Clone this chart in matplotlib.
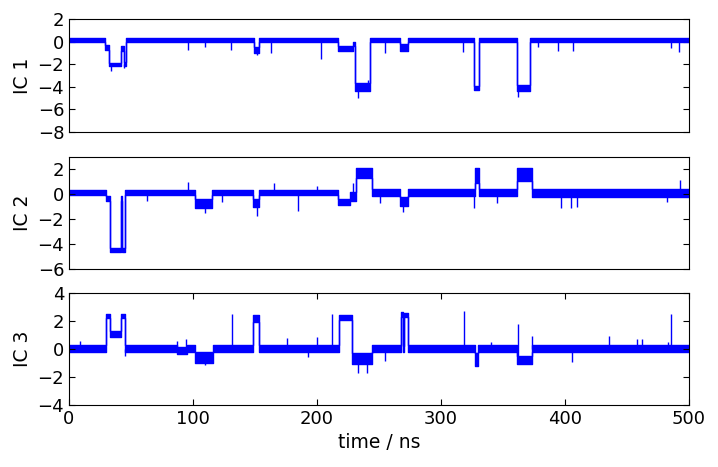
import matplotlib
matplotlib.use("Agg")
import matplotlib.pyplot as plt
import numpy as np

# time axis in ns, each IC trace is described by plateaus:
# (start, end, lower edge of noise band, upper edge of noise band)
IC1_START = [0, 29, 32.5, 42, 44, 45.7, 149, 153, 217, 229, 231, 242.7, 267, 273, 327, 331, 361, 372]
IC1_END = [29, 32.5, 42, 44, 45.7, 149, 153, 217, 229, 231, 242.7, 267, 273, 327, 331, 361, 372, 500]
IC1_LO = [-0.05, -0.7, -2.2, -0.8, -2.2, -0.05, -1.0, -0.05, -0.8, -0.4, -4.35, -0.05, -0.8, -0.05, -4.3, -0.05, -4.4, -0.05]
IC1_HI = [0.3, -0.3, -1.9, -0.4, -1.8, 0.3, -0.5, 0.3, -0.35, 0.0, -3.7, 0.3, -0.2, 0.3, -3.9, 0.3, -3.8, 0.3]
IC1_SPIKE_T = [34, 44.5, 95.7, 110, 131, 152, 162.6, 203, 233, 241, 254.6, 318, 362, 378, 394, 406.6, 485.5, 492]
IC1_SPIKE_V = [-2.6, -2.3, -0.75, -0.5, -0.7, -1.2, -1.0, -1.57, -5.0, -3.4, -1.0, -0.9, -4.9, -0.5, -0.8, -0.8, -0.6, -0.9]

IC2_START = [0, 29.6, 33, 41.7, 43, 45.2, 101.6, 115, 148, 153.4, 217, 226.6, 231.2, 244, 267, 273, 327.5, 331, 361, 373]
IC2_END = [29.6, 33, 41.7, 43, 45.2, 101.6, 115, 148, 153.4, 217, 226.6, 231.2, 244, 267, 273, 327.5, 331, 361, 373, 500]
IC2_LO = [-0.05, -0.5, -4.6, -0.5, -4.6, -0.05, -1.1, -0.05, -1.0, -0.05, -0.85, -0.5, 1.3, -0.15, -0.9, -0.15, 0.9, -0.15, 1.1, -0.2]
IC2_HI = [0.35, -0.1, -4.3, -0.1, -4.3, 0.35, -0.4, 0.35, -0.4, 0.35, -0.35, 0.2, 2.1, 0.4, -0.2, 0.4, 2.1, 0.4, 2.1, 0.4]
IC2_SPIKE_T = [63, 96, 110, 123, 152, 165, 185, 200, 229, 251, 269, 327, 345, 397, 405, 410, 482, 492.7]
IC2_SPIKE_V = [-0.5, 0.96, -1.5, -0.6, -1.75, 0.9, -1.3, 0.7, 0.9, -0.7, -1.4, -1.1, -0.7, -1.1, -1.1, -1.0, -0.6, 1.15]

IC3_START = [0, 29.6, 33, 42, 45, 87, 95, 101.6, 116, 148.4, 153.4, 217.7, 228, 244, 267.5, 269.3, 270, 273.4, 327.3, 330, 361, 373]
IC3_END = [29.6, 33, 42, 45, 87, 95, 101.6, 116, 148.4, 153.4, 217.7, 228, 244, 267.5, 269.3, 270, 273.4, 327.3, 330, 361, 373, 500]
IC3_LO = [-0.25, 2.2, 0.85, 2.2, -0.25, -0.35, -0.25, -1.0, -0.25, 1.9, -0.25, 2.1, -1.1, -0.25, 2.3, -0.2, 2.3, -0.25, -1.2, -0.25, -1.05, -0.25]
IC3_HI = [0.3, 2.5, 1.25, 2.5, 0.3, 0.15, 0.3, -0.25, 0.3, 2.45, 0.3, 2.45, -0.3, 0.3, 2.65, 0.2, 2.55, 0.3, -0.3, 0.3, -0.5, 0.3]
IC3_SPIKE_T = [9, 45.5, 86.8, 94, 110, 131.2, 175.5, 193, 199.7, 211.8, 233, 240, 255, 318.5, 340, 362, 373.3, 405.4, 435.6, 458, 462, 483, 485.8]
IC3_SPIKE_V = [0.6, -0.5, 0.6, 0.7, -1.17, 2.5, 0.75, -0.6, 0.85, 2.5, -1.7, -1.7, -0.87, 2.7, 0.5, 1.76, 0.94, -0.9, 0.95, 0.7, 0.7, 0.5, 2.5]

TRACES = [
    ("IC 1", IC1_START, IC1_END, IC1_LO, IC1_HI, IC1_SPIKE_T, IC1_SPIKE_V, (-8, 2), [-8, -6, -4, -2, 0, 2]),
    ("IC 2", IC2_START, IC2_END, IC2_LO, IC2_HI, IC2_SPIKE_T, IC2_SPIKE_V, (-6, 3), [-6, -4, -2, 0, 2]),
    ("IC 3", IC3_START, IC3_END, IC3_LO, IC3_HI, IC3_SPIKE_T, IC3_SPIKE_V, (-4, 4), [-4, -2, 0, 2, 4]),
]

plt.rcParams["font.family"] = "DejaVu Sans"
plt.rcParams["font.size"] = 13

fig = plt.figure(figsize=(7.18, 4.67), dpi=100)
boxes = [
    [0.0961, 0.7173, 0.8635, 0.2420],
    [0.0961, 0.4240, 0.8635, 0.2398],
    [0.0961, 0.1328, 0.8635, 0.2398],
]

for i, (name, t0, t1, lo, hi, st, sv, ylim, yticks) in enumerate(TRACES):
    ax = fig.add_axes(boxes[i])
    x, ylo, yhi = [], [], []
    for a, b, l, h in zip(t0, t1, lo, hi):
        x += [a, b]
        ylo += [l, l]
        yhi += [h, h]
    ax.fill_between(x, ylo, yhi, color="b", lw=0)
    ax.plot(x, ylo, color="b", lw=1)
    ax.plot(x, yhi, color="b", lw=1)
    # short excursions outside the band
    base = [(l + h) / 2 for l, h in zip(lo, hi)]
    mids = [base[int(np.searchsorted(t1, s))] for s in st]
    ax.vlines(st, mids, sv, color="b", lw=1)

    ax.set_xlim(0, 500)
    ax.set_ylim(*ylim)
    ax.set_yticks(yticks)
    ax.set_ylabel(name, fontsize=13.5)
    ax.tick_params(direction="in", top=True, right=True, length=4.5, labelsize=13)
    if i < 2:
        ax.set_xticks([])
    else:
        ax.set_xticks([0, 100, 200, 300, 400, 500])
        ax.set_xlabel("time / ns", fontsize=13.5)

fig.savefig("out.png", dpi=100)
